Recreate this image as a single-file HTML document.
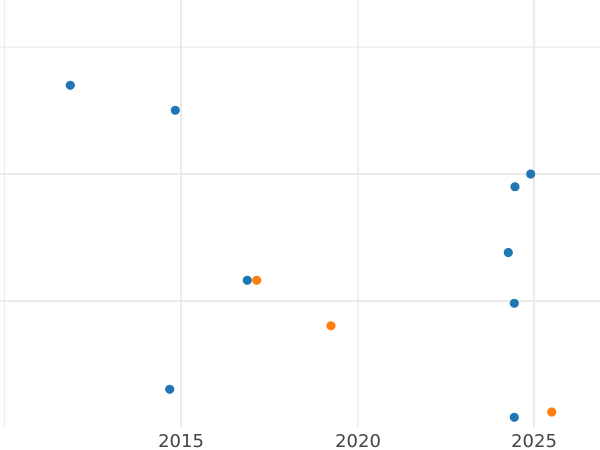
<!DOCTYPE html>
<html>
<head>
<meta charset="utf-8">
<style>
html,body{margin:0;padding:0;background:#fff;}
svg{display:block;}
</style>
</head>
<body>
<svg width="600" height="450" viewBox="0 0 600 450" xmlns="http://www.w3.org/2000/svg">
<rect width="600" height="450" fill="#fff"/>
<g stroke="#ebebeb">
<line x1="4.5" y1="0" x2="4.5" y2="427" stroke-width="1.2"/>
<line x1="181" y1="0" x2="181" y2="427" stroke-width="2"/>
<line x1="358" y1="0" x2="358" y2="427" stroke-width="1.6"/>
<line x1="534" y1="0" x2="534" y2="427" stroke-width="2"/>
<line x1="0" y1="47" x2="600" y2="47" stroke-width="1.3"/>
<line x1="0" y1="174" x2="600" y2="174" stroke-width="2"/>
<line x1="0" y1="301" x2="600" y2="301" stroke-width="2"/>
</g>
<g fill="#1f77b4">
<circle cx="70.3" cy="85.3" r="4.6"/>
<circle cx="175.3" cy="110.3" r="4.6"/>
<circle cx="530.7" cy="174" r="4.6"/>
<circle cx="515" cy="186.7" r="4.6"/>
<circle cx="508.3" cy="252.5" r="4.6"/>
<circle cx="247.3" cy="280.3" r="4.6"/>
<circle cx="514.3" cy="303.3" r="4.6"/>
<circle cx="169.7" cy="389.3" r="4.6"/>
<circle cx="514.3" cy="417.3" r="4.6"/>
</g>
<g fill="#ff7f0e">
<circle cx="256.7" cy="280.3" r="4.6"/>
<circle cx="331" cy="325.8" r="4.6"/>
<circle cx="551.7" cy="412" r="4.6"/>
</g>
<g font-family="'DejaVu Sans', 'Liberation Sans', sans-serif" font-size="18" fill="#444" text-anchor="middle">
<text x="181" y="447">2015</text>
<text x="358" y="447">2020</text>
<text x="534" y="447">2025</text>
</g>
</svg>
</body>
</html>
